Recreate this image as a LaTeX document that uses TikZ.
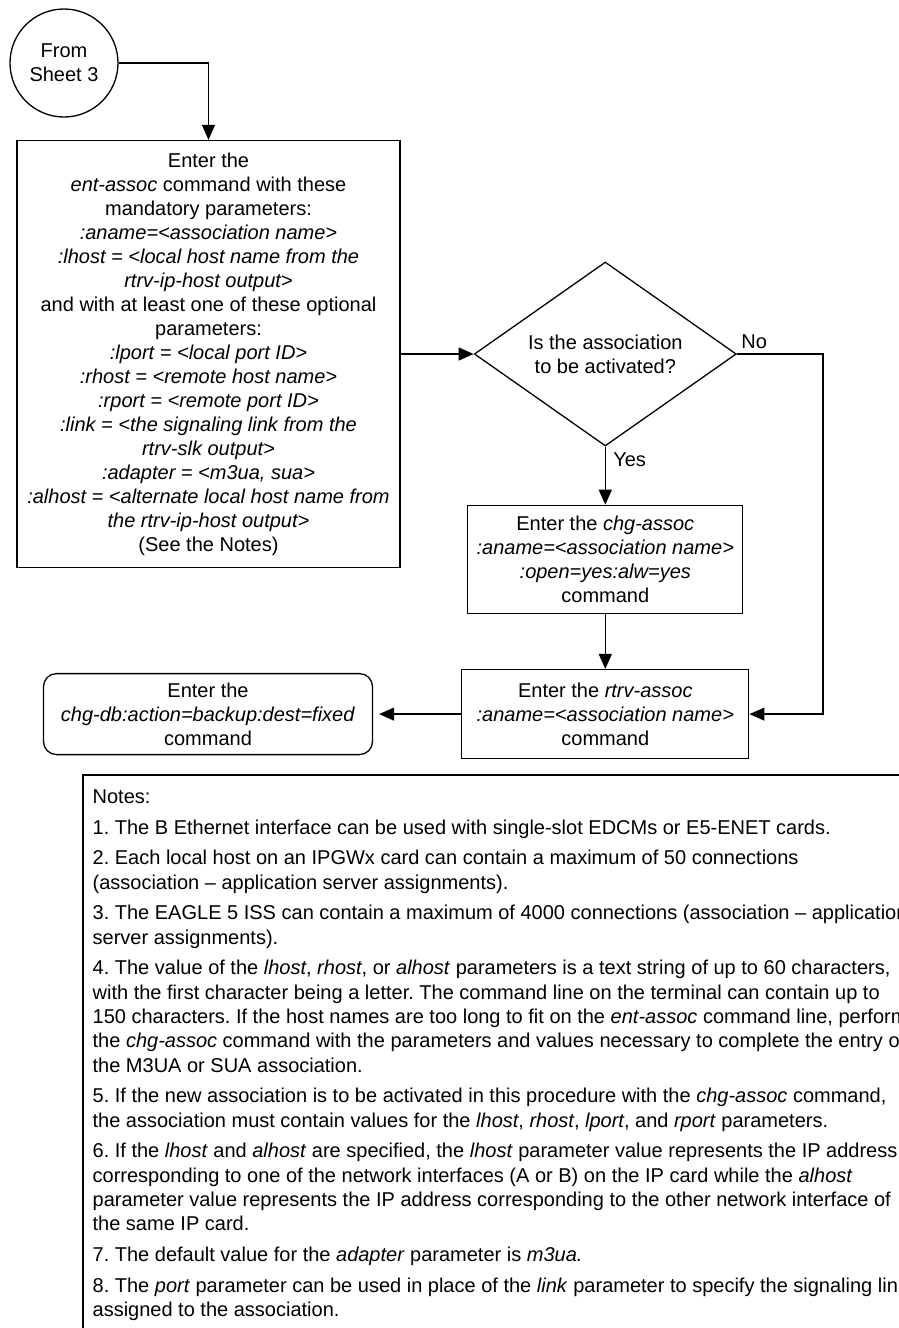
\documentclass[tikz,border=0pt]{standalone}
\usepackage{fontspec}
\setmainfont{Liberation Sans}
\frenchspacing
\usetikzlibrary{arrows.meta,positioning,shapes.geometric}

\begin{document}
\begin{tikzpicture}[
  x=1pt, y=-1pt,
  font=\fontsize{20}{24}\selectfont,
  line width=1.3pt,
  cmd/.style={draw,rectangle,inner sep=0pt,align=center},
  decision/.style={draw,diamond,aspect=1.42,inner sep=0pt,minimum width=262pt,minimum height=184pt,align=center},
  finish/.style={cmd,rounded corners=13pt},
  offpage/.style={draw,circle,minimum size=108pt,inner sep=0pt,align=center},
  flow/.style={-{Triangle[length=15pt,width=13pt]}},
  notetext/.style={align=left,inner sep=0pt,font=\fontsize{20}{24.3}\selectfont}
]
  \useasboundingbox (0,0) rectangle (899,1328);
  \clip (0,0) rectangle (899,1328);

  \node[offpage] (start) at (64,63) {From\\Sheet 3};
  \node[cmd,minimum width=383pt,minimum height=427pt] (enter) at (208.5,354)
    {Enter the\\
     \textit{ent-assoc} command with these\\
     mandatory parameters:\\
     \textit{:aname=<association name>}\\
     \textit{:lhost = <local host name from the}\\
     \textit{rtrv-ip-host output>}\\
     and with at least one of these optional\\
     parameters:\\
     \textit{:lport = <local port ID>}\\
     \textit{:rhost = <remote host name>}\\
     \textit{:rport = <remote port ID>}\\
     \textit{:link = <the signaling link from the}\\
     \textit{rtrv-slk output>}\\
     \textit{:adapter = <m3ua, sua>}\\
     \textit{:alhost = <alternate local host name from}\\
     \textit{the rtrv-ip-host output>}\\
     (See the Notes)};
  \node[decision,right=73pt of enter] (decide) {Is the association\\to be activated?};
  \node[cmd,minimum width=275pt,minimum height=108pt,below=58pt of decide] (chg)
    {Enter the \textit{chg-assoc}\\
     \textit{:aname=<association name>}\\
     \textit{:open=yes:alw=yes}\\
     command};
  \node[cmd,minimum width=287pt,minimum height=89pt,below=55pt of chg] (rtrv)
    {Enter the \textit{rtrv-assoc}\\
     \textit{:aname=<association name>}\\
     command};
  \node[finish,minimum width=329pt,minimum height=81pt,left=88pt of rtrv] (backup)
    {Enter the\\
     \textit{chg-db:action=backup:dest=fixed}\\
     command};

  \draw[flow] (start) -| (enter);
  \draw[flow] (enter) -- (decide);
  \draw[flow] (decide) -- node[right=4pt,pos=.22]{Yes} (chg);
  \draw[flow] (decide.east) -- node[above=1pt,pos=.2]{No} ++(86,0) |- (rtrv.east);
  \draw[flow] (chg) -- (rtrv);
  \draw[flow,shorten >=6pt] (rtrv) -- (backup);

  % notes
  \draw (83,775) rectangle (940,1360);
  \node[notetext,anchor=north west] (notes) at (92,789)
    {Notes:\\[6.4pt]
     1. The B Ethernet interface can be used with single-slot EDCMs or E5-ENET cards.\\[6.4pt]
     2. Each local host on an IPGWx card can contain a maximum of 50 connections\\
     (association -- application server assignments).\\[6.4pt]
     3. The EAGLE 5 ISS can contain a maximum of 4000 connections (association -- application\\
     server assignments).\\[6.4pt]
     4. The value of the \textit{lhost}, \textit{rhost}, or \textit{alhost} parameters is a text string of up to 60 characters,\\
     with the first character being a letter. The command line on the terminal can contain up to\\
     150 characters. If the host names are too long to fit on the \textit{ent-assoc} command line, perform\\
     the \textit{chg-assoc} command with the parameters and values necessary to complete the entry of\\
     the M3UA or SUA association.\\[6.4pt]
     5. If the new association is to be activated in this procedure with the \textit{chg-assoc} command,\\
     the association must contain values for the \textit{lhost}, \textit{rhost}, \textit{lport}, and \textit{rport} parameters.\\[6.4pt]
     6. If the \textit{lhost} and \textit{alhost} are specified, the \textit{lhost} parameter value represents the IP address\\
     corresponding to one of the network interfaces (A or B) on the IP card while the \textit{alhost}\\
     parameter value represents the IP address corresponding to the other network interface of\\
     the same IP card.\\[6.4pt]
     7. The default value for the \textit{adapter} parameter is \textit{m3ua.}\\[6.4pt]
     8. The \textit{port} parameter can be used in place of the \textit{link} parameter to specify the signaling link\\
     assigned to the association.};
\end{tikzpicture}
\end{document}
